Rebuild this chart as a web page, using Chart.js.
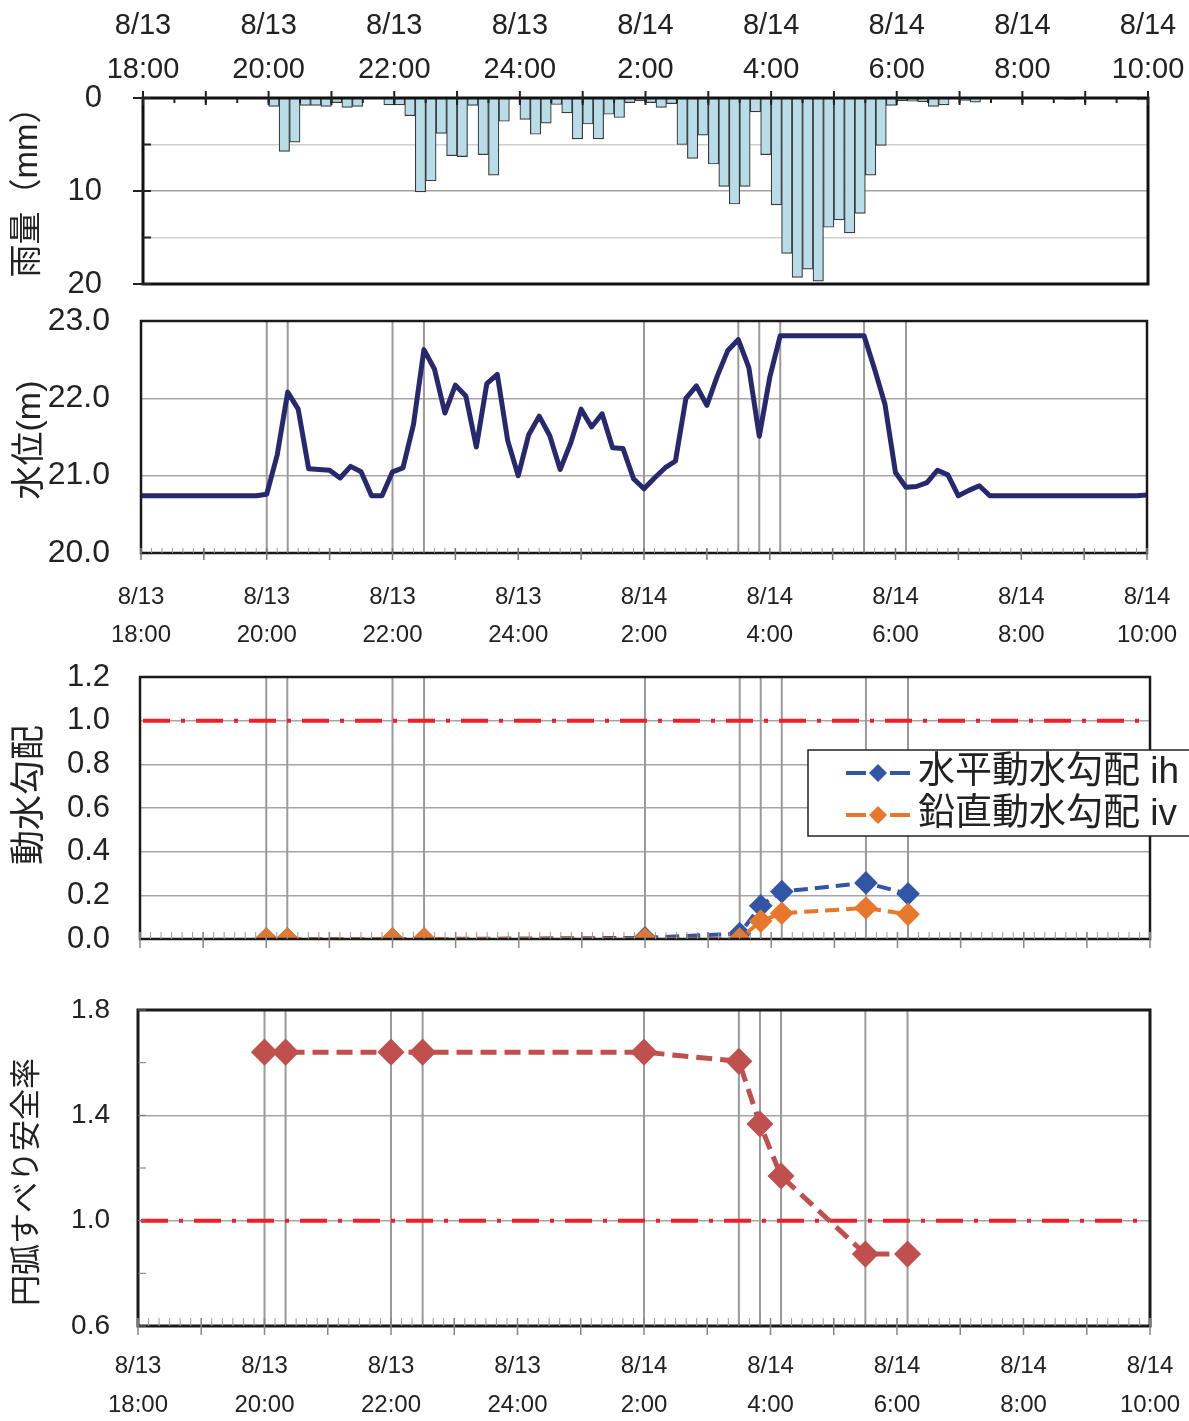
<!DOCTYPE html>
<html lang="ja">
<head>
<meta charset="utf-8">
<title>雨量・水位・動水勾配・円弧すべり安全率</title>
<script src="https://cdn.jsdelivr.net/npm/chart.js@4.4.1/dist/chart.umd.min.js"></script>
<style>
  html, body { margin: 0; padding: 0; background: #fff; }
  #wrap { position: relative; width: 1189px; height: 1421px; overflow: hidden; }
  #wrap canvas { position: absolute; left: 0; }
</style>
</head>
<body>
<div id="wrap">
  <canvas id="rainChart" width="1189" height="310" style="top:0"></canvas>
  <canvas id="levelChart" width="1189" height="350" style="top:300px"></canvas>
  <canvas id="gradChart" width="1189" height="310" style="top:650px"></canvas>
  <canvas id="fsChart" width="1189" height="461" style="top:960px"></canvas>
</div>
<script>
(function() {
    'use strict';

    // ==========================================
    // DATA
    // ==========================================
    // x axis labels, every 2 hours from 8/13 18:00
    var tickDates = ['8/13', '8/13', '8/13', '8/13', '8/14', '8/14', '8/14', '8/14', '8/14'];
    var tickTimes = ['18:00', '20:00', '22:00', '24:00', '2:00', '4:00', '6:00', '8:00', '10:00'];

    // 10-minute rainfall (mm), 8/13 18:00 .. 8/14 9:50
    var rain = [
        0, 0, 0, 0, 0, 0,                    // 18:00
        0, 0, 0, 0, 0, 0,                    // 19:00
        0.9, 5.75, 4.75, 0.8, 0.8, 0.9,      // 20:00
        0.5, 1.0, 0.9, 0, 0, 0.75,           // 21:00
        0.75, 1.9, 10.1, 8.9, 3.8, 6.2,      // 22:00
        6.3, 0.8, 6.1, 8.3, 2.5, 0,          // 23:00
        2.3, 3.9, 2.7, 0.7, 1.6, 4.4,        // 0:00
        2.8, 4.4, 1.75, 2.1, 0.5, 0.3,       // 1:00
        0.5, 1.0, 0.6, 5.0, 6.5, 4.0,        // 2:00
        7.1, 9.5, 11.4, 9.5, 1.5, 6.1,       // 3:00
        11.5, 16.7, 19.3, 18.4, 19.7, 13.9,  // 4:00
        13.1, 14.5, 12.4, 8.3, 5.1, 0.8,     // 5:00
        0.3, 0.35, 0.4, 0.9, 0.75, 0,        // 6:00
        0.25, 0.45, 0, 0, 0, 0,              // 7:00
        0, 0, 0, 0, 0.15, 0,                 // 8:00
        0, 0, 0, 0, 0, 0.2                   // 9:00
    ];

    // water level (m), every 10 minutes, 8/13 18:00 .. 8/14 10:00
    var level = [
        20.74, 20.74, 20.74, 20.74, 20.74, 20.74,   // 18:00
        20.74, 20.74, 20.74, 20.74, 20.74, 20.74,   // 19:00
        20.76, 21.27, 22.08, 21.86, 21.09, 21.08,   // 20:00
        21.07, 20.97, 21.12, 21.05, 20.74, 20.74,   // 21:00
        21.05, 21.10, 21.66, 22.63, 22.38, 21.81,   // 22:00
        22.17, 22.03, 21.37, 22.19, 22.31, 21.45,   // 23:00
        21.00, 21.53, 21.77, 21.52, 21.08, 21.42,   // 0:00
        21.86, 21.63, 21.80, 21.36, 21.35, 20.96,   // 1:00
        20.83, 20.97, 21.10, 21.19, 22.00, 22.16,   // 2:00
        21.91, 22.29, 22.62, 22.76, 22.40, 21.51,   // 3:00
        22.27, 22.81, 22.81, 22.81, 22.81, 22.81,   // 4:00
        22.81, 22.81, 22.81, 22.81, 22.38, 21.92,   // 5:00
        21.04, 20.85, 20.86, 20.91, 21.07, 21.01,   // 6:00
        20.74, 20.81, 20.87, 20.74, 20.74, 20.74,   // 7:00
        20.74, 20.74, 20.74, 20.74, 20.74, 20.74,   // 8:00
        20.74, 20.74, 20.74, 20.74, 20.74, 20.74,   // 9:00
        20.75                                       // 10:00
    ];

    // analysis times and results
    var calcTimes = ['20:00', '20:20', '22:00', '22:30', '2:00', '3:30', '3:50', '4:10', '5:30', '6:10'];
    var gradH  = [0, 0, 0, 0, 0.005, 0.025, 0.152, 0.217, 0.257, 0.207];
    var gradV  = [0, 0, 0, 0, 0, 0, 0.082, 0.118, 0.142, 0.113];
    var safety = [1.64, 1.64, 1.64, 1.64, 1.64, 1.605, 1.367, 1.17, 0.873, 0.873];

    // minutes from 8/13 18:00
    function toMin(s) {
        var p = s.split(':').map(Number);
        return ((p[0] - 18 + 24) % 24) * 60 + p[1];
    }
    var calcMin = calcTimes.map(toMin);

    var FONT = "'Liberation Sans', 'Noto Sans CJK JP', sans-serif";
    var CLEAR = 'rgba(0,0,0,0)';
    Chart.defaults.font.family = FONT;
    Chart.defaults.color = '#222';
    Chart.defaults.plugins.legend.display = false;
    Chart.defaults.plugins.tooltip.enabled = false;

    // ==========================================
    // PLUGINS
    // ==========================================
    var framePlugin = {
        id: 'frame',
        afterDatasetsDraw: function(chart, args, opts) {
            var ctx = chart.ctx, a = chart.chartArea;
            ctx.save();
            ctx.strokeStyle = opts.color || '#111';
            ctx.lineWidth = opts.width || 2;
            ctx.strokeRect(a.left, a.top, a.right - a.left, a.bottom - a.top);
            ctx.restore();
        }
    };

    var tickMarksPlugin = {
        id: 'tickMarks',
        afterDatasetsDraw: function(chart, args, opts) {
            var ctx = chart.ctx, a = chart.chartArea;
            (opts.marks || []).forEach(function(m) {
                var scale = chart.scales[m.axis];
                var n = Math.round((scale.max - scale.min) / m.step);
                ctx.save();
                ctx.strokeStyle = m.color;
                ctx.lineWidth = m.width || 1;
                ctx.beginPath();
                for (var k = 0; k <= n; k++) {
                    var p = scale.getPixelForValue(scale.min + k * m.step);
                    if (m.axis === 'x') {
                        var y0 = m.edge === 'top' ? a.top : a.bottom;
                        var dir = m.edge === 'top' ? 1 : -1;
                        ctx.moveTo(p, y0 - dir * m.out);
                        ctx.lineTo(p, y0 + dir * m.in);
                    } else {
                        ctx.moveTo(a.left - m.out, p);
                        ctx.lineTo(a.left + m.in, p);
                    }
                }
                ctx.stroke();
                ctx.restore();
            });
        }
    };

    var eventLinesPlugin = {
        id: 'eventLines',
        beforeDatasetsDraw: function(chart, args, opts) {
            var ctx = chart.ctx, a = chart.chartArea, x = chart.scales.x;
            ctx.save();
            ctx.strokeStyle = opts.color;
            ctx.lineWidth = opts.width;
            opts.times.forEach(function(t) {
                var px = x.getPixelForValue(t);
                ctx.beginPath();
                ctx.moveTo(px, a.top);
                ctx.lineTo(px, a.bottom);
                ctx.stroke();
            });
            ctx.restore();
        }
    };

    var refLinePlugin = {
        id: 'refLine',
        beforeDatasetsDraw: function(chart, args, opts) {
            var ctx = chart.ctx, a = chart.chartArea;
            var py = chart.scales.y.getPixelForValue(opts.value);
            ctx.save();
            ctx.strokeStyle = opts.color;
            ctx.lineWidth = opts.width;
            ctx.setLineDash(opts.dash);
            ctx.beginPath();
            ctx.moveTo(a.left + 3, py);
            ctx.lineTo(a.right - 3, py);
            ctx.stroke();
            ctx.restore();
        }
    };

    var sideTitlePlugin = {
        id: 'sideTitle',
        afterDraw: function(chart, args, opts) {
            var ctx = chart.ctx;
            ctx.save();
            ctx.translate(opts.x, opts.y);
            ctx.rotate(-Math.PI / 2);
            ctx.font = opts.size + 'px ' + FONT;
            ctx.fillStyle = '#222';
            ctx.textAlign = 'center';
            ctx.textBaseline = 'middle';
            ctx.fillText(opts.text, 0, 0);
            ctx.restore();
        }
    };

    var legendBoxPlugin = {
        id: 'legendBox',
        afterDraw: function(chart, args, opts) {
            var ctx = chart.ctx;
            ctx.save();
            ctx.fillStyle = '#fff';
            ctx.fillRect(opts.x, opts.y, opts.w, opts.h);
            ctx.strokeStyle = '#222';
            ctx.lineWidth = 1.5;
            ctx.strokeRect(opts.x, opts.y, opts.w, opts.h);
            chart.data.datasets.forEach(function(ds, i) {
                var cy = opts.y + opts.rowTop + i * opts.rowGap;
                var mx = (opts.lineX0 + opts.lineX1) / 2, r = ds.pointRadius;
                ctx.strokeStyle = ds.borderColor;
                ctx.lineWidth = ds.borderWidth;
                ctx.beginPath();
                ctx.moveTo(opts.lineX0, cy); ctx.lineTo(mx - r - 3, cy);
                ctx.moveTo(mx + r + 3, cy); ctx.lineTo(opts.lineX1, cy);
                ctx.stroke();
                ctx.fillStyle = ds.backgroundColor;
                ctx.beginPath();
                ctx.moveTo(mx, cy - r); ctx.lineTo(mx + r, cy);
                ctx.lineTo(mx, cy + r); ctx.lineTo(mx - r, cy);
                ctx.closePath();
                ctx.fill();
                ctx.fillStyle = '#222';
                ctx.font = opts.size + 'px ' + FONT;
                ctx.textBaseline = 'middle';
                ctx.fillText(ds.label, opts.textX, cy);
            });
            ctx.restore();
        }
    };

    function timeLabel(v, i) {
        return [tickDates[i], tickTimes[i]];
    }

    // shared 18:00 -> 10:00 axis (minutes); tickLength only offsets the labels
    function timeAxis(opts) {
        return {
            type: 'linear',
            position: opts.position || 'bottom',
            min: 0,
            max: 960,
            offset: false,
            grid: { display: false, offset: false, drawTicks: true, tickLength: opts.offset },
            border: { display: false },
            ticks: {
                display: opts.labels !== false,
                stepSize: 120,
                autoSkip: false,
                maxRotation: 0,
                padding: 0,
                font: { size: opts.size, lineHeight: opts.lineHeight },
                callback: timeLabel
            },
            afterFit: function(s) { s.height = opts.height; }
        };
    }

    // ==========================================
    // RAINFALL (inverted bars)
    // ==========================================
    new Chart(document.getElementById('rainChart'), {
        type: 'bar',
        data: {
            datasets: [{
                data: rain.map(function(v, i) { return { x: i * 10 + 5, y: v }; }),
                backgroundColor: '#b8dde8',
                borderColor: '#3a3a3a',
                borderWidth: function(c) { return c.raw && c.raw.y > 0 ? 1.2 : 0; },
                categoryPercentage: 1,
                barPercentage: 1
            }]
        },
        options: {
            responsive: false,
            devicePixelRatio: 1,
            animation: false,
            layout: { padding: { left: 0, top: 0, right: 41, bottom: 26 } },
            scales: {
                x: timeAxis({ position: 'top', offset: 6, size: 29, lineHeight: 1.52, height: 98 }),
                y: {
                    reverse: true,
                    min: 0,
                    max: 20,
                    border: { display: false },
                    grid: {
                        lineWidth: 1.5,
                        color: function(c) {
                            var v = c.tick.value;
                            if (v === 10) return '#a3a3a3';
                            return v % 10 ? '#d0d0d0' : CLEAR;
                        },
                        tickLength: 41,
                        tickColor: CLEAR
                    },
                    ticks: {
                        stepSize: 5,
                        padding: 0,
                        font: { size: 31 },
                        callback: function(v) { return v % 10 === 0 ? v : ''; }
                    },
                    afterFit: function(s) { s.width = 143; }
                }
            },
            plugins: {
                frame: { color: '#111', width: 3 },
                tickMarks: { marks: [
                    { axis: 'x', edge: 'top', step: 30, in: 5, out: 0, color: '#222', width: 2 },
                    { axis: 'x', edge: 'top', step: 60, in: 7, out: 7, color: '#222', width: 2 },
                    { axis: 'y', step: 5, in: 8, out: 0, color: '#222', width: 2 },
                    { axis: 'y', step: 10, in: 0, out: 10, color: '#222', width: 2 }
                ] },
                sideTitle: { text: '雨量（mm）', x: 28, y: 184, size: 33 }
            }
        },
        plugins: [framePlugin, tickMarksPlugin, sideTitlePlugin]
    });

    // ==========================================
    // WATER LEVEL
    // ==========================================
    new Chart(document.getElementById('levelChart'), {
        type: 'line',
        data: {
            datasets: [{
                data: level.map(function(v, i) { return { x: i * 10, y: v }; }),
                borderColor: '#28286f',
                borderWidth: 5,
                borderJoinStyle: 'round',
                pointRadius: 0,
                tension: 0
            }]
        },
        options: {
            responsive: false,
            devicePixelRatio: 1,
            animation: false,
            layout: { padding: { left: 0, top: 21, right: 42, bottom: 0 } },
            scales: {
                x: timeAxis({ offset: 25, size: 24, lineHeight: 1.58, height: 97 }),
                y: {
                    min: 20,
                    max: 23,
                    border: { display: false },
                    grid: {
                        lineWidth: 1.5,
                        tickLength: 31,
                        tickColor: CLEAR,
                        color: function(c) {
                            var v = c.tick.value;
                            return v === 21 || v === 22 ? '#a6a6a6' : CLEAR;
                        }
                    },
                    ticks: {
                        stepSize: 1,
                        padding: 0,
                        font: { size: 32 },
                        callback: function(v) { return v.toFixed(1); }
                    },
                    afterFit: function(s) { s.width = 141; }
                }
            },
            plugins: {
                frame: { color: '#1a1a1a', width: 2.5 },
                eventLines: { times: calcMin, color: '#9a9a9a', width: 2 },
                tickMarks: { marks: [
                    { axis: 'x', edge: 'bottom', step: 10, in: 5, out: 0, color: '#999', width: 1 },
                    { axis: 'x', edge: 'bottom', step: 60, in: 5, out: 7, color: '#777', width: 1.5 }
                ] },
                sideTitle: { text: '水位(m)', x: 31, y: 140, size: 34 }
            }
        },
        plugins: [eventLinesPlugin, framePlugin, tickMarksPlugin, sideTitlePlugin]
    });

    // ==========================================
    // HYDRAULIC GRADIENT
    // ==========================================
    new Chart(document.getElementById('gradChart'), {
        type: 'line',
        data: {
            datasets: [{
                label: '水平動水勾配 ih',
                data: calcMin.map(function(t, i) { return { x: t, y: gradH[i] }; }),
                borderColor: '#3156a6',
                backgroundColor: '#3156a6',
                borderWidth: 4,
                borderDash: [14, 7],
                pointStyle: 'rectRot',
                pointRadius: 9,
                order: 1
            }, {
                label: '鉛直動水勾配 iv',
                data: calcMin.map(function(t, i) { return { x: t, y: gradV[i] }; }),
                borderColor: '#e8772c',
                backgroundColor: '#e8772c',
                borderWidth: 4,
                borderDash: [14, 7],
                pointStyle: 'rectRot',
                pointRadius: 9,
                order: 0
            }]
        },
        options: {
            responsive: false,
            devicePixelRatio: 1,
            animation: false,
            layout: { padding: { left: 0, top: 27, right: 39, bottom: 0 } },
            scales: {
                x: timeAxis({ labels: false, offset: 0, size: 24, lineHeight: 1.5, height: 21 }),
                y: {
                    min: 0,
                    max: 1.2,
                    border: { display: false },
                    grid: { lineWidth: 1.5, tickLength: 30, tickColor: CLEAR, color: '#a6a6a6' },
                    ticks: {
                        stepSize: 0.2,
                        padding: 0,
                        font: { size: 31 },
                        callback: function(v) { return v.toFixed(1); }
                    },
                    afterFit: function(s) { s.width = 140; }
                }
            },
            plugins: {
                frame: { color: '#1a1a1a', width: 2.5 },
                eventLines: { times: calcMin, color: '#9a9a9a', width: 2 },
                refLine: { value: 1.0, color: '#ee1f26', width: 4, dash: [27, 11, 4, 11] },
                tickMarks: { marks: [
                    { axis: 'x', edge: 'bottom', step: 10, in: 7, out: 0, color: '#999', width: 1 },
                    { axis: 'x', edge: 'bottom', step: 60, in: 7, out: 9, color: '#888', width: 1.5 }
                ] },
                sideTitle: { text: '動水勾配', x: 30, y: 145, size: 35 },
                legendBox: { x: 808, y: 100, w: 400, h: 86, rowTop: 23, rowGap: 42,
                             lineX0: 846, lineX1: 910, textX: 918, size: 37 }
            }
        },
        plugins: [eventLinesPlugin, refLinePlugin, framePlugin, tickMarksPlugin, sideTitlePlugin, legendBoxPlugin]
    });

    // ==========================================
    // SAFETY FACTOR (circular slip)
    // ==========================================
    new Chart(document.getElementById('fsChart'), {
        type: 'line',
        data: {
            datasets: [{
                label: '円弧すべり安全率',
                data: calcMin.map(function(t, i) { return { x: t, y: safety[i] }; }),
                borderColor: '#c0504d',
                backgroundColor: '#c0504d',
                borderWidth: 5,
                borderDash: [16, 8],
                pointStyle: 'rectRot',
                pointRadius: 10
            }]
        },
        options: {
            responsive: false,
            devicePixelRatio: 1,
            animation: false,
            layout: { padding: { left: 0, top: 50, right: 39, bottom: 0 } },
            scales: {
                x: timeAxis({ offset: 21, size: 24, lineHeight: 1.62, height: 95 }),
                y: {
                    min: 0.6,
                    max: 1.8,
                    border: { display: false },
                    grid: {
                        lineWidth: 1.5,
                        tickLength: 28,
                        tickColor: CLEAR,
                        color: function(c) {
                            var k = Math.round(c.tick.value * 10);
                            return k === 10 || k === 14 ? '#a6a6a6' : CLEAR;
                        }
                    },
                    ticks: {
                        stepSize: 0.2,
                        padding: 0,
                        font: { size: 28 },
                        callback: function(v) {
                            return Math.round(v * 10) % 4 === 2 ? v.toFixed(1) : '';
                        }
                    },
                    afterFit: function(s) { s.width = 138; }
                }
            },
            plugins: {
                frame: { color: '#1a1a1a', width: 3 },
                eventLines: { times: calcMin, color: '#9a9a9a', width: 2 },
                refLine: { value: 1.0, color: '#ee1f26', width: 4, dash: [27, 11, 4, 11] },
                tickMarks: { marks: [
                    { axis: 'x', edge: 'bottom', step: 10, in: 8, out: 0, color: '#999', width: 1 },
                    { axis: 'x', edge: 'bottom', step: 60, in: 8, out: 9, color: '#888', width: 1.5 },
                    { axis: 'y', step: 0.2, in: 8, out: 0, color: '#777', width: 1 }
                ] },
                sideTitle: { text: '円弧すべり安全率', x: 27, y: 222, size: 31 }
            }
        },
        plugins: [eventLinesPlugin, refLinePlugin, framePlugin, tickMarksPlugin, sideTitlePlugin]
    });

})();
</script>
</body>
</html>
